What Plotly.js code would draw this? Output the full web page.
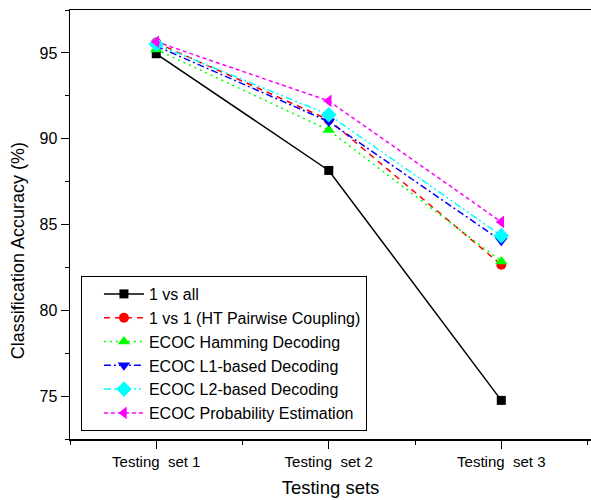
<!DOCTYPE html>
<html>
<head>
<meta charset="utf-8">
<script src="https://cdn.plot.ly/plotly-3.0.1.min.js"></script>
<style>html,body{margin:0;padding:0;background:#fff;}#chart{width:591px;height:500px;}</style>
</head>
<body>
<div id="chart"></div>
<script>
const categories = ["Testing\u00a0 set 1", "Testing\u00a0 set 2", "Testing\u00a0 set 3"];
const seriesNames = ["1 vs all", "1 vs 1 (HT Pairwise Coupling)", "ECOC Hamming Decoding", "ECOC L1-based Decoding", "ECOC L2-based Decoding", "ECOC Probability Estimation"];
const oneVsAll = [94.95, 88.15, 74.75];
const oneVsOne = [95.6, 91.1, 82.65];
const ecocHamming = [95.2, 90.5, 82.85];
const ecocL1 = [95.4, 91.0, 84.05];
const ecocL2 = [95.5, 91.4, 84.35];
const ecocProb = [95.65, 92.2, 85.15];
const yTicks = [75, 80, 85, 90, 95];
const xTitle = 'Testing sets';
const yTitle = 'Classification Accuracy (%)';

const xIdx = categories.map((c, i) => i);
const values = [oneVsAll, oneVsOne, ecocHamming, ecocL1, ecocL2, ecocProb];
const styles = [
  {color: '#000000', dash: 'solid', symbol: 'square', size: 9},
  {color: '#ff0000', dash: '6px,5px', symbol: 'circle', size: 10},
  {color: '#00ff00', dash: '2px,4px', symbol: 'triangle-up', size: 11},
  {color: '#0000ff', dash: '7px,3px,2px,3px', symbol: 'triangle-down', size: 11},
  {color: '#00ffff', dash: '7px,3px,2px,3px,2px,3px', symbol: 'diamond', size: 12},
  {color: '#ff00ff', dash: '4px,3px', symbol: 'triangle-left', size: 11}
];

const traces = values.map((v, i) => ({
  x: xIdx, y: v, name: seriesNames[i], type: 'scatter', mode: 'lines+markers',
  line: {color: styles[i].color, width: 1.5, dash: styles[i].dash},
  marker: {color: styles[i].color, symbol: styles[i].symbol, size: styles[i].size, line: {width: 0}}
}));

const font = 'Liberation Sans, Arial, sans-serif';
const layout = {
  width: 591, height: 500,
  margin: {l: 70, r: 0, t: 10, b: 61},
  paper_bgcolor: '#fff', plot_bgcolor: '#fff',
  showlegend: true,
  font: {family: font, color: '#000', size: 14},
  xaxis: {
    type: 'linear', range: [-0.5, 2.52],
    tickmode: 'array', tickvals: xIdx, ticktext: categories,
    ticks: 'outside', ticklen: 8, tickwidth: 1, tickcolor: '#000',
    minor: {tickmode: 'array', tickvals: [-0.5, 0.5, 1.5, 2.5], ticks: 'outside', ticklen: 4, tickwidth: 1, tickcolor: '#000'},
    showline: true, linecolor: '#000', linewidth: 1.5, mirror: true,
    showgrid: false, zeroline: false,
    tickfont: {family: font, size: 15},
    title: {text: xTitle, font: {family: font, size: 18.5}, standoff: 12}
  },
  yaxis: {
    range: [72.5, 97.5],
    tickmode: 'array', tickvals: yTicks,
    ticks: 'outside', ticklen: 8, tickwidth: 1, tickcolor: '#000',
    minor: {dtick: 2.5, tick0: 72.5, ticks: 'outside', ticklen: 4, tickwidth: 1, tickcolor: '#000'},
    showline: true, linecolor: '#000', linewidth: 1.5,
    showgrid: false, zeroline: false,
    tickfont: {family: font, size: 16}
  },
  annotations: [{
    text: yTitle, textangle: -90, xref: 'paper', yref: 'paper',
    x: -0.1, y: 0.44, xanchor: 'center', yanchor: 'middle', showarrow: false,
    font: {family: font, size: 18, color: '#000'}
  }],
  legend: {
    x: 0.021, y: 0.38, xanchor: 'left', yanchor: 'top',
    bgcolor: '#fff', bordercolor: '#000', borderwidth: 1,
    font: {family: font, size: 16}, itemwidth: 40, tracegroupgap: 0,
    indentation: 17,
    traceorder: 'normal'
  }
};
Plotly.newPlot('chart', traces, layout, {displayModeBar: false, staticPlot: true});
</script>
</body>
</html>
